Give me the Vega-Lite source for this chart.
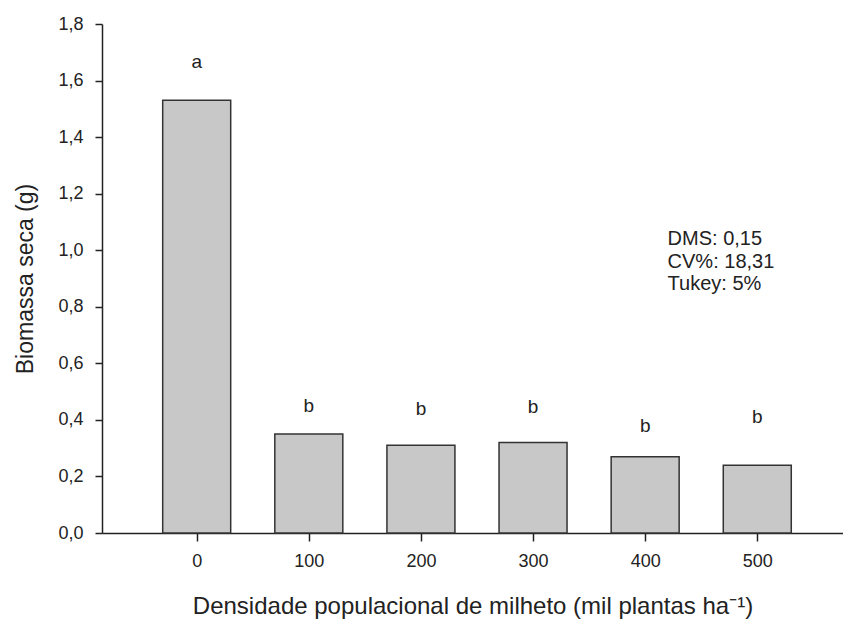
{
  "$schema": "https://vega.github.io/schema/vega-lite/v6.json",
  "width": 741,
  "height": 509,
  "autosize": "none",
  "padding": {"left": 102, "top": 24, "right": 0, "bottom": 86},
  "background": "white",
  "config": {
    "view": {"stroke": null},
    "font": "Liberation Sans",
    "axis": {
      "domainColor": "#222222",
      "tickColor": "#222222",
      "labelColor": "#222222",
      "titleColor": "#222222",
      "labelFont": "Liberation Sans",
      "titleFont": "Liberation Sans",
      "labelFontSize": 18,
      "titleFontSize": 23,
      "titleFontWeight": "normal",
      "grid": false,
      "domainWidth": 1.5,
      "tickWidth": 1.5
    }
  },
  "datasets": {
    "bars": [
      {"densidade": 0, "biomassa": 1.53, "letra": "a", "pos_letra": 1.665},
      {"densidade": 100, "biomassa": 0.35, "letra": "b", "pos_letra": 0.45},
      {"densidade": 200, "biomassa": 0.31, "letra": "b", "pos_letra": 0.44},
      {"densidade": 300, "biomassa": 0.32, "letra": "b", "pos_letra": 0.445},
      {"densidade": 400, "biomassa": 0.27, "letra": "b", "pos_letra": 0.38},
      {"densidade": 500, "biomassa": 0.24, "letra": "b", "pos_letra": 0.41}
    ],
    "nota": [
      {"x": 420, "y": 1.04, "texto": "DMS: 0,15"},
      {"x": 420, "y": 0.958, "texto": "CV%: 18,31"},
      {"x": 420, "y": 0.88, "texto": "Tukey: 5%"}
    ]
  },
  "layer": [
    {
      "data": {"name": "bars"},
      "mark": {"type": "bar", "size": 68, "fill": "#c8c8c8", "stroke": "#333333", "strokeWidth": 1.5},
      "encoding": {
        "x": {
          "field": "densidade", "type": "quantitative",
          "scale": {"domain": [-80, 572], "nice": false, "zero": false},
          "axis": {
            "values": [0, 100, 200, 300, 400, 500],
            "format": "d",
            "tickSize": 8,
            "labelPadding": 11,
            "title": "Densidade populacional de milheto (mil plantas ha⁻¹)",
            "titleFontSize": 24,
            "titlePadding": 24
          }
        },
        "y": {
          "field": "biomassa", "type": "quantitative",
          "scale": {"domain": [0, 1.8], "nice": false},
          "axis": {
            "values": [0, 0.2, 0.4, 0.6, 0.8, 1.0, 1.2, 1.4, 1.6, 1.8],
            "format": ".1f",
            "labelExpr": "replace(datum.label, '.', ',')",
            "tickSize": 7,
            "labelPadding": 12,
            "title": "Biomassa seca (g)",
            "titlePadding": 20
          }
        }
      }
    },
    {
      "data": {"name": "bars"},
      "mark": {"type": "text", "fontSize": 19, "color": "#222222", "baseline": "middle", "align": "center"},
      "encoding": {
        "x": {"field": "densidade", "type": "quantitative"},
        "y": {"field": "pos_letra", "type": "quantitative"},
        "text": {"field": "letra"}
      }
    },
    {
      "data": {"name": "nota"},
      "mark": {"type": "text", "fontSize": 20, "color": "#222222", "baseline": "middle", "align": "left"},
      "encoding": {
        "x": {"field": "x", "type": "quantitative"},
        "y": {"field": "y", "type": "quantitative"},
        "text": {"field": "texto"}
      }
    }
  ]
}
